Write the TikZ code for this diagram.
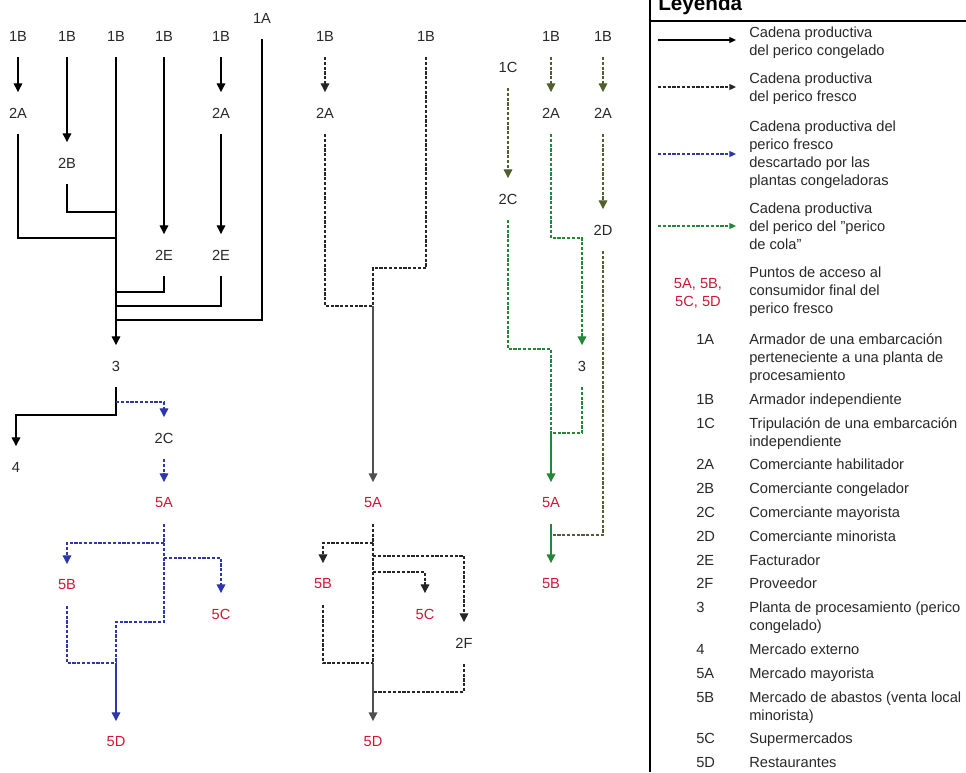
\documentclass[tikz,border=0pt]{standalone}
\usepackage{fontspec}
\setmainfont{Liberation Sans}
\usetikzlibrary{arrows.meta}
\definecolor{labred}{RGB}{205,25,55}
\definecolor{txtc}{RGB}{40,40,40}
\definecolor{blueL}{RGB}{45,55,170}
\definecolor{oliveL}{RGB}{80,95,45}
\definecolor{greenL}{RGB}{35,135,55}
\definecolor{grayL}{RGB}{80,80,80}
\newcommand{\legtxt}[1]{\begin{tabular}[t]{@{}l@{}}#1\end{tabular}}
\newcommand{\legctr}[1]{\begin{tabular}[t]{@{}c@{}}#1\end{tabular}}
\renewcommand{\arraystretch}{1}
\begin{document}
\begin{tikzpicture}[x=0.75pt,y=-0.75pt,
  font=\fontsize{11}{13.5}\selectfont,
  lbl/.style={inner sep=0pt, minimum height=31pt, text=txtc},
  lblr/.style={lbl, text=labred},
  arr/.style={-{Triangle[length=6.5pt,width=6.5pt]}},
  arrs/.style={-{Triangle[length=5pt,width=4.5pt]}},
  ln/.style={line width=0.8pt, black},
  dsh/.style={dash pattern=on 2.4pt off 1.2pt},
  bk/.style={line width=0.8pt, black!85, dsh},
  gy/.style={line width=0.9pt, grayL},
  bl/.style={line width=0.8pt, blueL, dsh},
  bls/.style={line width=0.8pt, blueL},
  ol/.style={line width=0.8pt, oliveL, dsh},
  gr/.style={line width=0.8pt, greenL, dsh},
  grs/.style={line width=0.9pt, greenL},
  lt/.style={anchor=base west, inner sep=0pt, text=txtc},
  lc/.style={anchor=base west, inner sep=0pt, text=txtc}
]
\useasboundingbox (0,0) rectangle (966,772);

% ---------- diagram 1 ----------
\node[lbl] (a1) at (18,36) {1B};
\node[lbl] (a2) at (67,36) {1B};
\node[lbl] (a3) at (116,36) {1B};
\node[lbl] (a4) at (164,36) {1B};
\node[lbl] (a5) at (221,36) {1B};
\node[lbl] (a1A) at (262,18) {1A};
\node[lbl] (a2A) at (18,113) {2A};
\node[lbl] (a2B) at (67,163) {2B};
\node[lbl] (a2Ab) at (221,113) {2A};
\node[lbl] (a2E) at (164,255) {2E};
\node[lbl] (a2Eb) at (221,255) {2E};
\node[lbl] (a3n) at (116,366) {3};
\node[lbl] (a4n) at (16,467) {4};
\node[lbl] (a2C) at (164,438) {2C};
\node[lblr] (a5A) at (164,503) {5A};
\node[lblr] (a5B) at (67,585) {5B};
\node[lblr] (a5C) at (221,614) {5C};
\node[lblr] (a5D) at (116,742) {5D};
\coordinate (j1) at (116,212);
\coordinate (j2) at (116,238);
\coordinate (j3) at (116,292);
\coordinate (j4) at (116,306);
\coordinate (j5) at (116,320);
\coordinate (j6) at (116,402);
\coordinate (j7) at (116,415);
\coordinate (k1) at (164,543);
\coordinate (k2) at (164,558);
\coordinate (k3) at (164,622);
\coordinate (k4) at (116,622);
\coordinate (k5) at (116,663);

\draw[ln,arr] (a1.south) -- (a2A.north);
\draw[ln,arr] (a2.south) -- (a2B.north);
\draw[ln,arr] (a3.south) -- (a3n.north);
\draw[ln,arr] (a4.south) -- (a2E.north);
\draw[ln,arr] (a5.south) -- (a2Ab.north);
\draw[ln,arr] (a2Ab.south) -- (a2Eb.north);
\draw[ln] (a2B.south) |- (j1);
\draw[ln] (a2A.south) |- (j2);
\draw[ln] (a2E.south) |- (j3);
\draw[ln] (a2Eb.south) |- (j4);
\draw[ln] (a1A.south) |- (j5);
\draw[ln,arr] (a3n.south) -- (j7) -| (a4n.north);
\draw[bl,arr] (j6) -| (a2C.north);
\draw[bl,arr] (a2C.south) -- (a5A.north);
\draw[bl] (a5A.south) -- (k3) -- (k4) -- (k5);
\draw[bls,arr] (k5) -- (a5D.north);
\draw[bl,arr] (k1) -| (a5B.north);
\draw[bl,arr] (k2) -| (a5C.north);
\draw[bl] (a5B.south) |- (k5);

% ---------- diagram 2 ----------
\node[lbl] (b1) at (325,36) {1B};
\node[lbl] (b2) at (426,36) {1B};
\node[lbl] (b2A) at (325,113) {2A};
\node[lblr] (b5A) at (373,503) {5A};
\node[lblr] (b5B) at (323,584) {5B};
\node[lblr] (b5C) at (425,614) {5C};
\node[lbl] (b2F) at (464,643) {2F};
\node[lblr] (b5D) at (373,742) {5D};
\coordinate (m1) at (373,268);
\coordinate (m2) at (373,306);
\coordinate (m3) at (373,543);
\coordinate (m4) at (373,556);
\coordinate (m5) at (373,572);
\coordinate (m6) at (373,663);
\coordinate (m7) at (373,692);

\draw[bk,arr] (b1.south) -- (b2A.north);
\draw[bk] (b2A.south) |- (m2);
\draw[bk] (b2.south) |- (m1) -- (m2);
\draw[gy,arr] (m2) -- (b5A.north);
\draw[bk] (b5A.south) -- (m6);
\draw[gy,arr] (m6) -- (b5D.north);
\draw[bk,arr] (m3) -| (b5B.north);
\draw[bk,arr] (m4) -| (b2F.north);
\draw[bk,arr] (m5) -| (b5C.north);
\draw[bk] (b5B.south) |- (m6);
\draw[bk] (b2F.south) |- (m7);

% ---------- diagram 3 ----------
\node[lbl] (c1) at (551,36) {1B};
\node[lbl] (c2) at (603,36) {1B};
\node[lbl] (c1C) at (508,67) {1C};
\node[lbl] (c2A) at (551,113) {2A};
\node[lbl] (c2Ab) at (603,113) {2A};
\node[lbl] (c2C) at (508,199) {2C};
\node[lbl] (c2D) at (603,230) {2D};
\node[lbl] (c3) at (582,366) {3};
\node[lblr] (c5A) at (551,503) {5A};
\node[lblr] (c5B) at (551,584) {5B};
\coordinate (p1) at (582,238);
\coordinate (p2) at (551,349);
\coordinate (p3) at (551,433);
\coordinate (p4) at (551,535);

\draw[ol,arr] (c1C.south) -- (c2C.north);
\draw[ol,arr] (c1.south) -- (c2A.north);
\draw[ol,arr] (c2.south) -- (c2Ab.north);
\draw[ol,arr] (c2Ab.south) -- (c2D.north);
\draw[gr,arr] (c2A.south) |- (p1) -- (c3.north);
\draw[gr] (c2C.south) |- (p2) -- (p3);
\draw[gr] (c3.south) |- (p3);
\draw[grs,arr] (p3) -- (c5A.north);
\draw[ol] (c2D.south) |- (p4);
\draw[grs,arr] (c5A.south) -- (c5B.north);

% ---------- legend ----------
\draw[line width=1.5pt] (650,0) -- (650,772);
\draw[line width=1.5pt] (650,21) -- (966,21);
\node[anchor=base west, inner sep=0pt, font=\fontsize{15.5}{18}\selectfont\bfseries] (ley) at (658,10) {Leyenda};

\coordinate (l1s) at (658,40);  \coordinate (l1e) at (736,40);
\coordinate (l2s) at (658,87);  \coordinate (l2e) at (736,87);
\coordinate (l3s) at (658,154); \coordinate (l3e) at (736,154);
\coordinate (l4s) at (658,226); \coordinate (l4e) at (736,226);
\draw[ln,arrs] (l1s) -- (l1e);
\draw[bk,arrs] (l2s) -- (l2e);
\draw[bl,arrs] (l3s) -- (l3e);
\draw[gr,arrs] (l4s) -- (l4e);

\node[lt] (t1) at (749,37) {\legtxt{Cadena productiva\\del perico congelado}};
\node[lt] (t2) at (749,83) {\legtxt{Cadena productiva\\del perico fresco}};
\node[lt] (t3) at (749,131) {\legtxt{Cadena productiva del\\perico fresco\\descartado por las\\plantas congeladoras}};
\node[lt] (t4) at (749,213) {\legtxt{Cadena productiva\\del perico del \symbol{34}perico\\de cola\symbol{34}}};
\node[anchor=base, inner sep=0pt, text=labred] (t5c) at (698,288) {\legctr{5A, 5B,\\5C, 5D}};
\node[lt] (t5) at (749,277) {\legtxt{Puntos de acceso al\\consumidor final del\\perico fresco}};

\node[lc] (c01) at (696,344) {1A};
\node[lt] (d01) at (749,344) {\legtxt{Armador de una embarcación\\perteneciente a una planta de\\procesamiento}};
\node[lc] (c02) at (696,404) {1B};
\node[lt] (d02) at (749,404) {Armador independiente};
\node[lc] (c03) at (696,428) {1C};
\node[lt] (d03) at (749,428) {\legtxt{Tripulación de una embarcación\\independiente}};
\node[lc] (c04) at (696,469) {2A};
\node[lt] (d04) at (749,469) {Comerciante habilitador};
\node[lc] (c05) at (696,493) {2B};
\node[lt] (d05) at (749,493) {Comerciante congelador};
\node[lc] (c06) at (696,517) {2C};
\node[lt] (d06) at (749,517) {Comerciante mayorista};
\node[lc] (c07) at (696,541) {2D};
\node[lt] (d07) at (749,541) {Comerciante minorista};
\node[lc] (c08) at (696,565) {2E};
\node[lt] (d08) at (749,565) {Facturador};
\node[lc] (c09) at (696,588) {2F};
\node[lt] (d09) at (749,588) {Proveedor};
\node[lc] (c10) at (696,612) {3};
\node[lt] (d10) at (749,612) {\legtxt{Planta de procesamiento (perico\\congelado)}};
\node[lc] (c11) at (696,654) {4};
\node[lt] (d11) at (749,654) {Mercado externo};
\node[lc] (c12) at (696,678) {5A};
\node[lt] (d12) at (749,678) {Mercado mayorista};
\node[lc] (c13) at (696,702) {5B};
\node[lt] (d13) at (749,702) {\legtxt{Mercado de abastos (venta local\\minorista)}};
\node[lc] (c14) at (696,743) {5C};
\node[lt] (d14) at (749,743) {Supermercados};
\node[lc] (c15) at (696,767) {5D};
\node[lt] (d15) at (749,767) {Restaurantes};
\end{tikzpicture}
\end{document}
